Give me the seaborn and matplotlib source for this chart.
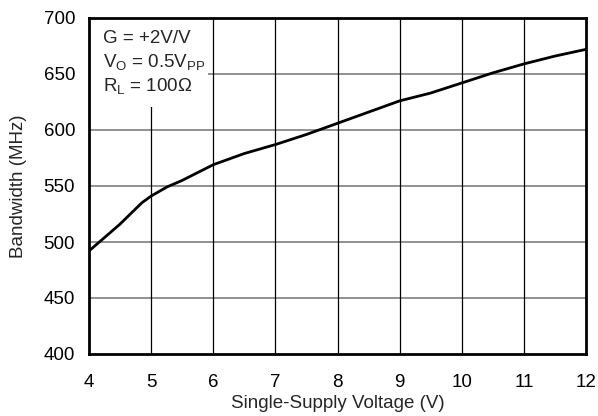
import matplotlib
matplotlib.use("Agg")
import matplotlib.pyplot as plt
from matplotlib.patches import Rectangle
import seaborn as sns
import pandas as pd

# Bandwidth versus single-supply voltage
supply_v = [4.0, 4.5, 4.85, 5.0, 5.25, 5.5, 6.0, 6.5, 7.0, 7.5, 8.0, 8.5,
            9.0, 9.5, 10.0, 10.5, 11.0, 11.5, 12.0]
bandwidth_mhz = [492, 516, 535, 541, 549, 555, 569, 579, 587, 596, 606, 616,
                 626, 633, 642, 651, 659, 666, 672]

x_ticks = [4, 5, 6, 7, 8, 9, 10, 11, 12]
y_ticks = [400, 450, 500, 550, 600, 650, 700]

df = pd.DataFrame({"v": supply_v, "bw": bandwidth_mhz})

sns.set_theme(style="white")
plt.rcParams["font.family"] = ["Liberation Sans", "DejaVu Sans"]

FS = 13.5

fig = plt.figure(figsize=(5.98, 4.16), dpi=100)
ax = fig.add_axes([89 / 598, 1 - 354 / 416, (586 - 89) / 598, (354 - 18) / 416])

sns.lineplot(data=df, x="v", y="bw", ax=ax, color="black", linewidth=2.0,
             zorder=3)

ax.set_xlim(4, 12)
ax.set_ylim(400, 700)
ax.set_xticks(x_ticks)
ax.set_yticks(y_ticks)
ax.set_xticklabels([str(t) for t in x_ticks], fontsize=FS)
ax.set_yticklabels([str(t) for t in y_ticks], fontsize=FS)
ax.tick_params(axis="x", length=0, pad=14.5, colors="black")
ax.tick_params(axis="y", length=0, pad=10, colors="black")

# grid: grey horizontals, black verticals
for y in y_ticks[1:-1]:
    ax.axhline(y, color="#7f7f7f", linewidth=1.2, zorder=1)
for x in x_ticks[1:-1]:
    ax.axvline(x, color="black", linewidth=0.9, zorder=1)

for s in ax.spines.values():
    s.set_visible(True)
    s.set_color("black")
    s.set_linewidth(2.0)

ax.set_xlabel("Single-Supply Voltage (V)", fontsize=FS, labelpad=3)
ax.set_ylabel("Bandwidth (MHz)", fontsize=FS, labelpad=12)

# white panel behind the test conditions
ax.add_patch(Rectangle((4.0, 620.5), 1.92, 79.5, facecolor="white",
                       edgecolor="none", zorder=2))
ax.text(4.225, 689,
        "G = +2V/V\n$\\mathregular{V_O}$ = 0.5$\\mathregular{V_{PP}}$\n"
        "$\\mathregular{R_L}$ = 100Ω",
        ha="left", va="top", fontsize=FS, linespacing=1.3, zorder=4)

fig.savefig("out.png", dpi=100)
